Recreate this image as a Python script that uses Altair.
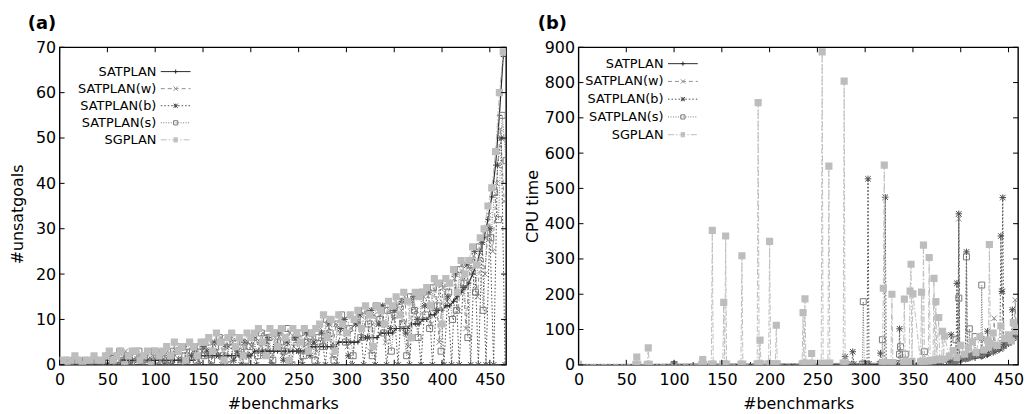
import altair as alt
import pandas as pd

SERIES = ["SATPLAN", "SATPLAN(w)", "SATPLAN(b)", "SATPLAN(s)", "SGPLAN"]

# ---------------- panel (a): #unsatgoals, one value every 4th benchmark ----------------
A_OFFSETS = [0, 1, 2, 3, 0]
A_SATPLAN = [0,0,0,0,0,0,0,0,0,0,0,0,
             0,0,0,0,0,1,1,1,1,1,1,1,1,1,1,1,
             1,1,1,1,1,1,1,1,2,2,
             2,2,2,2,2,2,2,2,2,2,2,2,2,
             3,3,3,3,3,3,3,3,3,3,3,3,3,3,3,4,4,
             4,4,4,4,4,5,5,5,5,5,
             5,6,6,6,6,6,7,7,7,7,
             8,8,8,8,9,9,9,10,
             10,11,11,12,12,13,13,
             14,15,16,17,18,
             20,22,25,28,
             32,37,44,55,68]
A_SATPLAN_W = [0,1,1,0,1,0,1,1,0,1,1,0,
               1,2,0,2,1,3,1,0,2,2,1,3,2,0,1,2,
               3,1,2,4,0,3,2,4,1,3,
               4,2,5,3,6,0,4,5,2,6,3,5,4,
               6,3,7,5,0,6,7,2,5,7,4,6,1,7,5,6,3,
               8,5,10,2,9,7,10,4,8,9,
               10,6,12,3,11,9,13,5,12,10,
               13,8,15,4,14,12,10,15,
               16,9,18,5,17,14,18,
               19,12,22,8,21,
               24,15,27,20,
               33,25,40,52,36]
A_SATPLAN_B = [1,0,0,1,0,1,1,0,0,1,0,1,
               0,1,2,0,1,2,0,3,1,0,2,1,0,2,3,0,
               2,0,3,1,4,0,2,3,0,4,
               3,0,5,2,0,4,6,1,3,0,5,2,6,
               0,5,2,6,0,4,7,1,5,0,6,3,0,7,2,5,0,
               7,0,9,4,0,8,10,2,0,9,
               11,0,6,12,0,9,13,0,8,12,
               0,14,7,0,15,10,0,13,
               16,0,12,18,0,15,0,
               20,0,17,22,0,
               25,0,27,0,
               30,0,44,50,0]
A_SATPLAN_S = [0,1,0,1,1,0,1,0,1,1,0,1,
               2,0,1,3,1,2,0,2,3,1,0,2,3,1,2,0,
               1,3,4,0,2,4,3,1,4,2,
               5,1,4,6,2,5,0,6,3,5,1,4,6,
               2,7,4,6,1,7,5,3,8,0,6,7,2,5,7,1,6,
               4,10,7,1,9,11,5,8,2,10,
               6,12,9,2,13,10,7,12,3,11,
               14,9,2,15,12,6,16,11,
               8,17,13,3,18,16,10,
               12,21,18,6,22,
               16,26,12,29,
               28,38,32,55,45]
A_SGPLAN = [1,1,0,1,2,1,0,1,1,2,1,1,
            2,3,1,2,3,0,2,3,3,1,2,3,0,3,2,3,
            4,2,5,3,4,1,5,4,2,5,
            5,6,3,7,5,1,6,7,4,6,2,7,6,
            7,8,5,2,8,7,4,8,6,1,8,7,5,8,3,7,8,
            9,11,6,10,3,11,9,7,11,10,
            12,8,13,11,4,13,12,9,14,13,
            15,11,16,14,6,16,15,16,
            17,13,19,18,9,19,18,
            21,16,23,20,23,
            26,22,28,30,
            35,39,47,60,69]

# ---------------- panel (b): CPU time (benchmark index, seconds) ----------------
B_SATPLAN_X = [0, 60, 120, 180, 240, 300, 340, 360, 375, 385, 395, 405, 415, 422, 428,
               434, 440, 445, 450, 454, 457, 460]
B_SATPLAN_Y = [0, 0.5, 1, 1, 1.5, 2, 3, 4, 5, 8, 11, 14, 18, 22, 27,
               33, 40, 48, 58, 68, 80, 99]
B_SATPLAN_W_X = [0, 100, 200, 300, 360, 397, 398, 399, 410, 420, 434, 435, 436, 442, 443,
                 444, 445, 450, 456, 457, 458, 460]
B_SATPLAN_W_Y = [1, 1, 1, 3, 6, 12, 414, 14, 20, 25, 35, 132, 38, 46, 48,
                 208, 52, 62, 80, 184, 90, 100]
B_SATPLAN_B_X = [0, 100, 200, 278, 279, 280, 286, 287, 288, 302,
                 303, 304, 315, 316, 317, 320, 321, 322, 335, 336,
                 337, 360, 380, 389, 390, 391, 395, 396, 397, 398,
                 399, 405, 406, 407, 412, 418, 421, 422, 423, 427,
                 428, 429, 435, 441, 442, 443, 444, 445, 450, 453,
                 454, 455, 459]
B_SATPLAN_B_Y = [1, 1, 2, 2, 23, 2, 2, 37, 2, 2,
                 527, 3, 3, 33, 3, 3, 475, 3, 4, 102,
                 5, 6, 8, 9, 85, 10, 12, 231, 14, 428,
                 16, 18, 320, 20, 25, 30, 25, 74, 26, 30,
                 95, 32, 40, 45, 365, 208, 474, 58, 65, 70,
                 156, 75, 105]
B_SATPLAN_S_X = [0, 100, 200, 297, 298, 299, 317, 318, 319, 335,
                 336, 337, 338, 341, 342, 343, 361, 362, 363, 394,
                 395, 396, 397, 398, 399, 405, 406, 407, 408, 409,
                 410, 414, 415, 416, 421, 422, 423, 430, 437, 445,
                 450, 455, 459]
B_SATPLAN_S_Y = [1, 1, 2, 2, 179, 2, 3, 71, 3, 4,
                 30, 51, 4, 4, 30, 5, 7, 37, 8, 12,
                 71, 14, 15, 189, 16, 18, 306, 20, 22, 102,
                 24, 28, 80, 30, 32, 226, 35, 40, 48, 55,
                 64, 78, 98]
B_SGPLAN_X = [0, 60, 61, 62, 72, 73, 74, 129, 130, 131,
              139, 140, 141, 151, 152, 153, 154, 155, 170, 171,
              172, 187, 188, 189, 190, 191, 199, 200, 201, 206,
              207, 208, 234, 235, 236, 237, 238, 243, 244, 245,
              254, 255, 256, 261, 262, 263, 277, 278, 279, 318,
              319, 320, 321, 327, 328, 329, 340, 341, 342, 346,
              347, 348, 349, 350, 358, 359, 360, 361, 362, 366,
              367, 368, 371, 372, 373, 374, 375, 377, 378, 380,
              381, 382, 383, 388, 392, 396, 400, 404, 408, 412,
              416, 420, 424, 428, 429, 430, 431, 434, 438, 442,
              446, 450, 453, 455, 457, 459]
B_SGPLAN_Y = [1, 1, 22, 1, 1, 48, 1, 1, 15, 1,
              2, 381, 2, 2, 177, 3, 365, 2, 2, 309,
              2, 3, 743, 4, 70, 3, 3, 350, 3, 3,
              112, 3, 3, 148, 5, 187, 4, 4, 32, 4,
              4, 887, 4, 4, 563, 5, 5, 804, 5, 5,
              217, 566, 6, 6, 200, 6, 7, 186, 8, 8,
              209, 285, 10, 201, 9, 206, 10, 339, 10, 10,
              304, 12, 12, 245, 14, 179, 15, 134, 16, 15,
              95, 16, 81, 25, 40, 20, 55, 30, 48, 65,
              35, 80, 42, 70, 50, 341, 60, 90, 55, 110,
              75, 85, 68, 120, 95, 105]

A_XTICKS = [0, 50, 100, 150, 200, 250, 300, 350, 400, 450]
A_YTICKS = [0, 10, 20, 30, 40, 50, 60, 70]
B_XTICKS = [0, 50, 100, 150, 200, 250, 300, 350, 400, 450]
B_YTICKS = [0, 100, 200, 300, 400, 500, 600, 700, 800, 900]

# ---------------- styles ----------------
FONT = "DejaVu Sans"
COLORS = ["#2a2a2a", "#8e8e8e", "#4c4c4c", "#7a7a7a", "#bdbdbd"]
DASHES = [None, [4, 3], [1.5, 2], [1, 1.5], [6, 2, 1.5, 2]]
PLUS = "M-1,0L1,0M0,-1L0,1"
XMARK = "M-1,-1L1,1M-1,1L1,-1"
STAR = "M-1,-1L1,1M-1,1L1,-1M-1.2,0L1.2,0M0,-1.2L0,1.2"
MARKERS = [(PLUS, 25, False), (XMARK, 30, False), (STAR, 30, False),
           ("square", 36, False), ("square", 52, True)]

# legend sample: symbol size 144 -> 6 px per path unit; sample line 30 px = +-2.5 units
LEG_SIZE = 144
LEG_UNIT = 6.0
LEG_HALF = 2.5


def dash_path(pattern):
    if pattern is None:
        return "M-%.2f,0L%.2f,0" % (LEG_HALF, LEG_HALF)
    segs, pos, i = [], -LEG_HALF, 0
    while pos < LEG_HALF:
        ln = pattern[i % len(pattern)] / LEG_UNIT
        if i % 2 == 0:
            segs.append("M%.3f,0L%.3f,0" % (pos, min(pos + ln, LEG_HALF)))
        pos += ln
        i += 1
    return "".join(segs)


M = 0.35
LEG_MARK = [
    "M-%.2f,0L%.2f,0M0,-%.2fL0,%.2f" % (M, M, M, M),
    "M-%.2f,-%.2fL%.2f,%.2fM-%.2f,%.2fL%.2f,-%.2f" % ((M,) * 8),
    "M-%.2f,-%.2fL%.2f,%.2fM-%.2f,%.2fL%.2f,-%.2fM-%.2f,0L%.2f,0M0,-%.2fL0,%.2f" % ((M,) * 12),
    "M-%.2f,-%.2fL%.2f,-%.2fL%.2f,%.2fL-%.2f,%.2fZ" % ((M,) * 8),
    "".join("M-%.2f,%.3fL%.2f,%.3f" % (M, v, M, v) for v in (-0.35, -0.2, -0.05, 0.1, 0.25, 0.35)),
]
LEG_PATHS = [dash_path(d) + m for d, m in zip(DASHES, LEG_MARK)]


def long_a():
    rows = []
    for s, off, vals in zip(SERIES, A_OFFSETS,
                            [A_SATPLAN, A_SATPLAN_W, A_SATPLAN_B, A_SATPLAN_S, A_SGPLAN]):
        for k, v in enumerate(vals):
            rows.append({"series": s, "x": off + 4 * k, "y": v})
    return pd.DataFrame(rows)


def long_b():
    rows = []
    for s, xs, ys in zip(SERIES,
                         [B_SATPLAN_X, B_SATPLAN_W_X, B_SATPLAN_B_X, B_SATPLAN_S_X, B_SGPLAN_X],
                         [B_SATPLAN_Y, B_SATPLAN_W_Y, B_SATPLAN_B_Y, B_SATPLAN_S_Y, B_SGPLAN_Y]):
        for x, y in zip(xs, ys):
            rows.append({"series": s, "x": x, "y": y})
    return pd.DataFrame(rows)


def panel(df, xdom, ydom, xticks, yticks, W, H, ytitle, title, title_dx,
          leg_x, leg_y, row_pad, y_title_pad, y_title_y=None):
    yaxis = dict(values=yticks, title=ytitle, labelPadding=4, titlePadding=y_title_pad)
    if y_title_y is not None:
        yaxis["titleY"] = y_title_y
    xenc = alt.X("x:Q", scale=alt.Scale(domain=xdom, nice=False, zero=False),
                 axis=alt.Axis(values=xticks, title="#benchmarks", labelPadding=7, titlePadding=8))
    yenc = alt.Y("y:Q", scale=alt.Scale(domain=ydom, nice=False, zero=False),
                 axis=alt.Axis(**yaxis))
    layers = []
    for i, s in enumerate(SERIES):
        base = alt.Chart(df).transform_filter(alt.datum.series == s)
        kw = dict(color=COLORS[i], strokeWidth=1.2 if i == 0 else 1, clip=True)
        if DASHES[i] is not None:
            kw["strokeDash"] = DASHES[i]
        layers.append(base.mark_line(**kw).encode(x=xenc, y=yenc))
        shape, size, filled = MARKERS[i]
        layers.append(base.mark_point(shape=shape, size=size, filled=filled, color=COLORS[i],
                                      strokeWidth=1, opacity=1, clip=True).encode(x=xenc, y=yenc))
    leg = alt.Legend(title=None, orient="none", legendX=leg_x, legendY=leg_y,
                     labelAlign="right", labelOffset={"expr": "-26"}, symbolSize=LEG_SIZE,
                     symbolStrokeWidth=1, symbolOpacity=1,
                     rowPadding=row_pad, padding=0, labelFont=FONT,
                     labelFontSize=13, labelColor="black", labelLimit=200)
    # legend-only layer: no rows are drawn, the legend comes from the fixed scale domain
    layers.append(alt.Chart(df).transform_filter("false").mark_point(filled=False).encode(
        x=xenc, y=yenc,
        color=alt.Color("series:N", scale=alt.Scale(domain=SERIES, range=COLORS), legend=leg),
        shape=alt.Shape("series:N", scale=alt.Scale(domain=SERIES, range=LEG_PATHS), legend=leg)))
    # inward ticks on all four sides (gnuplot style)
    xt = pd.DataFrame({"x": xticks})
    yt = pd.DataFrame({"y": yticks})
    layers.append(alt.Chart(xt).mark_rule(color="black", strokeWidth=1).encode(
        x=xenc, y=alt.value(0), y2=alt.value(5)))
    layers.append(alt.Chart(xt).mark_rule(color="black", strokeWidth=1).encode(
        x=xenc, y=alt.value(H - 5), y2=alt.value(H)))
    layers.append(alt.Chart(yt).mark_rule(color="black", strokeWidth=1).encode(
        y=yenc, x=alt.value(0), x2=alt.value(5)))
    layers.append(alt.Chart(yt).mark_rule(color="black", strokeWidth=1).encode(
        y=yenc, x=alt.value(W - 5), x2=alt.value(W)))
    return alt.layer(*layers).properties(
        width=W, height=H,
        title=alt.TitleParams(text=title, anchor="start", frame="group", dx=title_dx,
                              offset=6, font=FONT, fontSize=18, fontWeight="bold",
                              color="black"))


pa = panel(long_a(), [0, 467], [0, 70], A_XTICKS, A_YTICKS, 450, 320, "#unsatgoals", "(a)",
           -32, 110.5, 18, 3.2, 10, 168)
pb = panel(long_b(), [0, 460], [0, 900], B_XTICKS, B_YTICKS, 443, 320, "CPU time", "(b)",
           -41, 98.7, 10, 3.9, 4)

chart = alt.hconcat(pa, pb, spacing=15).resolve_scale(
    color="independent", shape="independent").resolve_legend(
    color="independent", shape="independent").configure_view(
    stroke="black", strokeWidth=1.4).configure_axis(
    labelFont=FONT, labelFontSize=16, labelColor="black", titleFont=FONT, titleFontSize=16,
    titleFontWeight="normal", titleColor="black", ticks=False, domain=False, grid=False,
    labelFlush=False, labelOverlap=False).properties(
    padding={"left": 0, "top": 5, "right": 0, "bottom": 0}, background="white")

chart.save("out.html", embed_options={"renderer": "svg", "actions": False})
